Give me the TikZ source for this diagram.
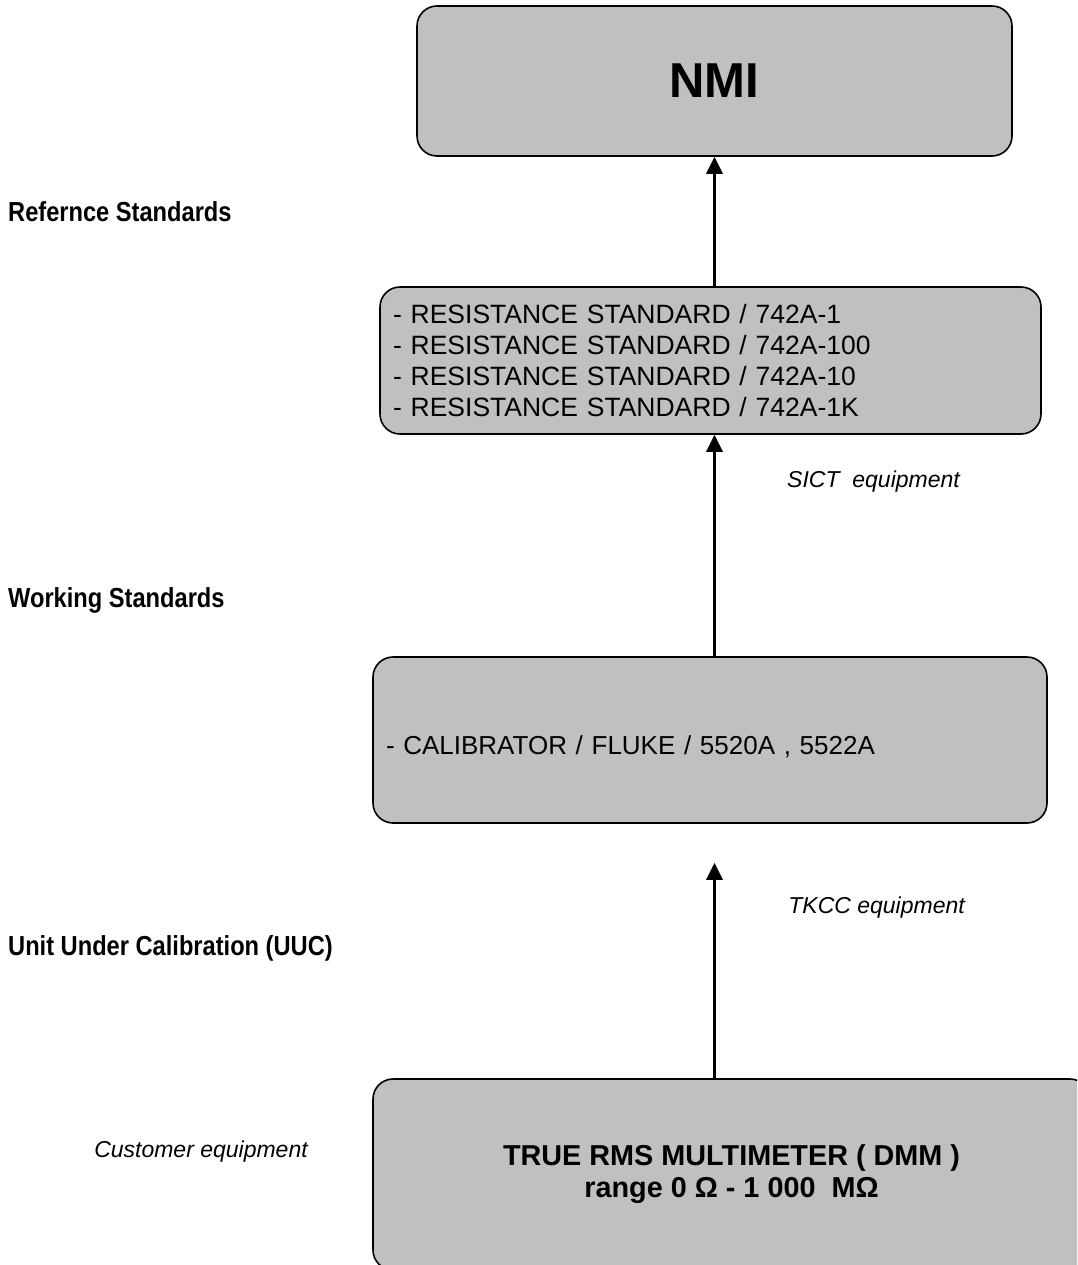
\documentclass[tikz,border=0pt]{standalone}
\usepackage{fontspec}
\setmainfont{Liberation Sans}
\newfontfamily\narrowfont[FakeStretch=0.86]{Liberation Sans}
\usetikzlibrary{arrows.meta}
\definecolor{boxgray}{RGB}{192,192,192}
\begin{document}
\begin{tikzpicture}[x=1pt,y=-1pt,
  box/.style={draw=black, line width=1.6pt, fill=boxgray, rounded corners=20pt, inner sep=0pt},
  flow/.style={line width=3pt, -{Triangle[width=16pt,length=17pt]}},
  side/.style={anchor=west, inner sep=0pt, font=\narrowfont\bfseries\fontsize{27.5}{30}\selectfont},
  note/.style={inner sep=0pt, font=\itshape\fontsize{23}{26}\selectfont}]
\useasboundingbox (0,0) rectangle (1077,1265);
\clip (0,0) rectangle (1077,1265);
\node[box, minimum width=595pt, minimum height=150pt, font=\bfseries\fontsize{49}{52}\selectfont] (nmi) at (714.5,81) {NMI};
\node[box, minimum width=661pt, minimum height=147pt, text width=635pt, inner xsep=13pt, align=left, font=\fontsize{26.5}{31}\selectfont] (ref) at (710.5,360.5)
  {- RESISTANCE STANDARD / 742A-1\\- RESISTANCE STANDARD / 742A-100\\- RESISTANCE STANDARD / 742A-10\\- RESISTANCE STANDARD / 742A-1K};
\node[box, minimum width=674pt, minimum height=166pt, text width=648pt, inner xsep=13pt, align=left, font=\fontsize{26}{30}\selectfont] (wrk) at (710,740)
  {\rule{0pt}{33pt}- CALIBRATOR / FLUKE / 5520A , 5522A};
\node[box, minimum width=717pt, minimum height=191pt, align=center, font=\bfseries\fontsize{28.8}{32}\selectfont] (uuc) at (731.5,1174.5)
  {TRUE RMS MULTIMETER ( DMM )\\range 0 Ω - 1 000~~MΩ};
\draw[flow] (ref.north -| nmi) -- (nmi.south);
\draw[flow] (wrk.north -| nmi) -- (ref.south -| nmi);
\draw[flow, shorten >=39pt] (uuc.north -| nmi) -- (wrk.south -| nmi);
\node[side] (lref) at (8,212) {Refernce Standards};
\node[side] (lwrk) at (8,600) {Working Standards};
\node[side] (luuc) at (8,948) {Unit Under Calibration (UUC)};
\node[note, anchor=east] (nsict) at (960,482) {SICT\ \ equipment};
\node[note, anchor=east] (ntkcc) at (965,908) {TKCC equipment};
\node[note] (ncust) at (201,1152) {Customer equipment};
\end{tikzpicture}
\end{document}
